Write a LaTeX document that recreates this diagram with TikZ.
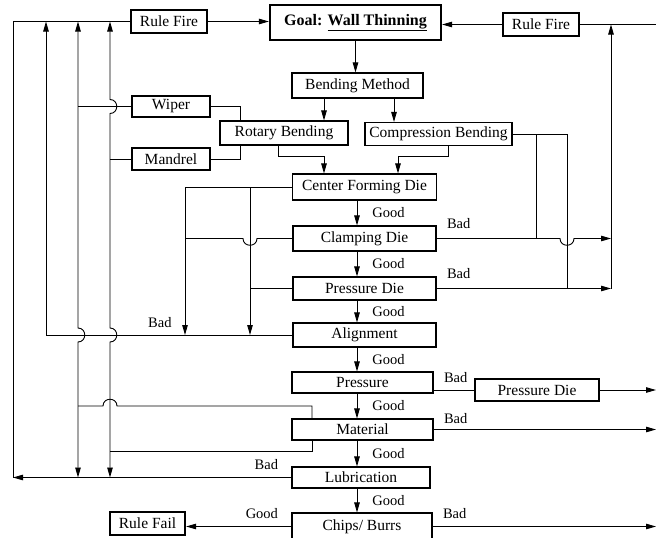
\documentclass[tikz,border=0pt]{standalone}
\usepackage{fontspec}
\setmainfont{Liberation Serif}
\usetikzlibrary{arrows.meta,calc}

\begin{document}
\begin{tikzpicture}[x=1pt, y=-1pt,
  line width=0.9pt,
  box/.style={draw, line width=1.1pt, inner sep=0pt, font=\fontsize{15.5}{18}\selectfont},
  heavy/.style={box, line width=2.2pt},
  lbl/.style={inner sep=1pt, font=\fontsize{14.5}{17}\selectfont},
  arr/.style={-{Triangle[length=10pt,width=5.5pt]}},
  arrs/.style={{Triangle[length=10pt,width=5.5pt]}-{Triangle[length=10pt,width=5.5pt]}},
  good/.style={lbl, midway, anchor=west, xshift=14pt},
  badR/.style={lbl, anchor=south west, xshift=9pt, yshift=6pt},
  badL/.style={lbl, anchor=south east, xshift=-12pt, yshift=6pt},
]
\useasboundingbox (0,0) rectangle (657,538);
\fill[white] (0,0) rectangle (657,538);

% ---- column and row guides for the connectors
\coordinate (c0) at (357,0);   % main chain
\coordinate (c1) at (46,0);    % left buses
\coordinate (c2) at (78,0);
\coordinate (c3) at (110,0);
\coordinate (c4) at (185,0);
\coordinate (c5) at (250,0);
\coordinate (c6) at (536,0);   % right buses
\coordinate (c7) at (567,0);
\coordinate (c8) at (611,0);
\coordinate (c9) at (240,0);
\coordinate (c10) at (324,0);
\coordinate (c11) at (394,0);
\coordinate (c12) at (278,0);
\coordinate (c13) at (448,0);
\coordinate (c14) at (398,0);
\coordinate (c15) at (312,0);
\coordinate (cL) at (13,0);
\coordinate (redge) at (656,0);
\coordinate (m1) at (0,156);
\coordinate (m2) at (0,406);
\coordinate (m3) at (0,451);

% ---- boxes
\node[box, minimum width=76pt, minimum height=23pt] (rfL) at (169,21.5) {Rule Fire};
\node[heavy, minimum width=171pt, minimum height=35pt, font=\fontsize{16}{19}\selectfont\bfseries] (goal) at (355.5,22.5) {Goal: \underline{Wall Thinning}};
\node[box, minimum width=76pt, minimum height=23pt] (rfR) at (541,24.5) {Rule Fire};
\node[box, minimum width=131pt, minimum height=25pt] (bm) at (357.5,85.5) {Bending Method};
\node[box, minimum width=128pt, minimum height=24pt] (rot) at (284,133) {Rotary Bending};
\node[box, minimum width=147pt, minimum height=23pt] (comp) at (438.5,134) {Compression Bending};
\node[box, minimum width=78pt, minimum height=21pt] (wiper) at (171,106.5) {Wiper};
\node[box, minimum width=78pt, minimum height=22pt] (mandrel) at (171,159) {Mandrel};
\node[box, minimum width=144pt, minimum height=26pt] (cfd) at (364.5,187) {Center Forming Die};
\node[box, minimum width=143pt, minimum height=25pt] (clamp) at (364.5,238.5) {Clamping Die};
\node[box, minimum width=143pt, minimum height=23pt] (pdie) at (364.5,288.5) {Pressure Die};
\node[box, minimum width=143pt, minimum height=24pt] (align) at (364.5,335) {Alignment};
\node[box, minimum width=141pt, minimum height=21pt] (pres) at (362.5,382.5) {Pressure};
\node[box, minimum width=141pt, minimum height=21pt] (mat) at (362.5,429.5) {Material};
\node[box, minimum width=138pt, minimum height=21pt] (lub) at (361,477.5) {Lubrication};
\node[box, minimum width=140pt, minimum height=27pt] (chips) at (362,526.5) {Chips/ Burrs};
\node[box, minimum width=124pt, minimum height=22pt] (pdie2) at (537,390) {Pressure Die};
\node[heavy, minimum width=75pt, minimum height=23pt] (fail) at (147.5,523.5) {Rule Fail};

% ---- top row
\draw[arr] (rfL.east) -- (rfL.east -| goal.west);
\draw[arr] (rfR.west) -- (rfR.west -| goal.east);
\draw (rfR.east) -- (rfR.east -| redge);
\draw[arr] (goal.south) -- (goal.south |- bm.north);

% ---- bending methods
\draw[arr] (c10 |- bm.south) -- (c10 |- rot.north);
\draw[arr] (c11 |- bm.south) -- (c11 |- comp.north);
\draw[arr] (c12 |- rot.south) -- (c12 |- m1) -- (c10 |- m1) -- (c10 |- cfd.north);
\draw[arr] (c13 |- comp.south) -- (c13 |- m1) -- (c14 |- m1) -- (c14 |- cfd.north);
\draw (wiper.east) -| (c9 |- rot.north);
\draw (mandrel.east) -| (c9 |- rot.south);
\draw (wiper.west) -- (c2 |- wiper.west);
\draw (mandrel.west) -- (c3 |- mandrel.west);

% ---- main chain
\draw[arr] (c0 |- cfd.south) -- (c0 |- clamp.north) node[good] {Good};
\draw[arr] (c0 |- clamp.south) -- (c0 |- pdie.north) node[good] {Good};
\draw[arr] (c0 |- pdie.south) -- (c0 |- align.north) node[good] {Good};
\draw[arr] (c0 |- align.south) -- (c0 |- pres.north) node[good] {Good};
\draw[arr] (c0 |- pres.south) -- (c0 |- mat.north) node[good] {Good};
\draw[arr] (c0 |- mat.south) -- (c0 |- lub.north) node[good] {Good};
\draw[arr] (c0 |- lub.south) -- (c0 |- chips.north) node[good] {Good};

% ---- die checks fed back to the alignment row
\draw[arr] (cfd.west) -| (c4 |- align.west);
\draw[arr] (c5 |- cfd.west) -- (c5 |- align.west);
\draw (clamp.west) -- ($(c5 |- clamp.west)+(7,0)$)
  .. controls +(0,9) and +(0,9) .. ($(c5 |- clamp.west)+(-7,0)$)
  -- (c4 |- clamp.west);
\draw (pdie.west) -- (c5 |- pdie.west);
\draw[arr] (align.west) -| (c1 |- rfL.west);
\node[lbl, anchor=south east, xshift=-12pt, yshift=6pt] (alignbad) at (c4 |- align.west) {Bad};

% ---- left buses back to the upper rule
\draw[arrs] (c2 |- rfL.west)
  -- ($(c2 |- align.west)+(0,-7)$) .. controls +(9,0) and +(9,0) .. ($(c2 |- align.west)+(0,7)$)
  -- (c2 |- lub.west);
\draw[arrs] (c3 |- rfL.west)
  -- ($(c3 |- wiper.west)+(0,-7)$) .. controls +(9,0) and +(9,0) .. ($(c3 |- wiper.west)+(0,7)$)
  -- ($(c3 |- align.west)+(0,-7)$) .. controls +(9,0) and +(9,0) .. ($(c3 |- align.west)+(0,7)$)
  -- (c3 |- lub.west);
\draw (c2 |- m2) -- ($(c3 |- m2)+(-7,0)$)
  .. controls +(0,-9) and +(0,-9) .. ($(c3 |- m2)+(7,0)$)
  -- (c15 |- m2) -- (c15 |- mat.north);
\draw (c3 |- m3) -- (c15 |- m3) -- (c15 |- mat.south);
\draw[arr] (lub.west) node[badL] {Bad} -- (cL |- lub.west);
\draw (rfL.west) -| (cL |- lub.west);

% ---- right side
\draw (comp.east) -| (c7 |- pdie.east);
\draw (c6 |- comp.east) -- (c6 |- clamp.east);
\draw[arr] (clamp.east) node[badR, yshift=2pt] {Bad} -- ($(c7 |- clamp.east)+(-7,0)$)
  .. controls +(0,9) and +(0,9) .. ($(c7 |- clamp.east)+(7,0)$)
  -- (c8 |- clamp.east);
\draw[arr] (pdie.east) node[badR, yshift=2pt] {Bad} -- (c8 |- pdie.east);
\draw[arr] (c8 |- pdie.east) -- (c8 |- rfR.east);
\draw (pres.east |- pdie2.west) node[badR] {Bad} -- (pdie2.west);
\draw[arr] (pdie2.east) -- (redge |- pdie2.east);
\draw[arr] (mat.east) node[badR, yshift=-2pt] {Bad} -- (redge |- mat.east);
\draw[arr] (chips.east) node[badR] {Bad} -- (redge |- chips.east);
\draw[arr] (chips.west) node[badL] {Good} -- (fail.east |- chips.west);
\end{tikzpicture}
\end{document}
